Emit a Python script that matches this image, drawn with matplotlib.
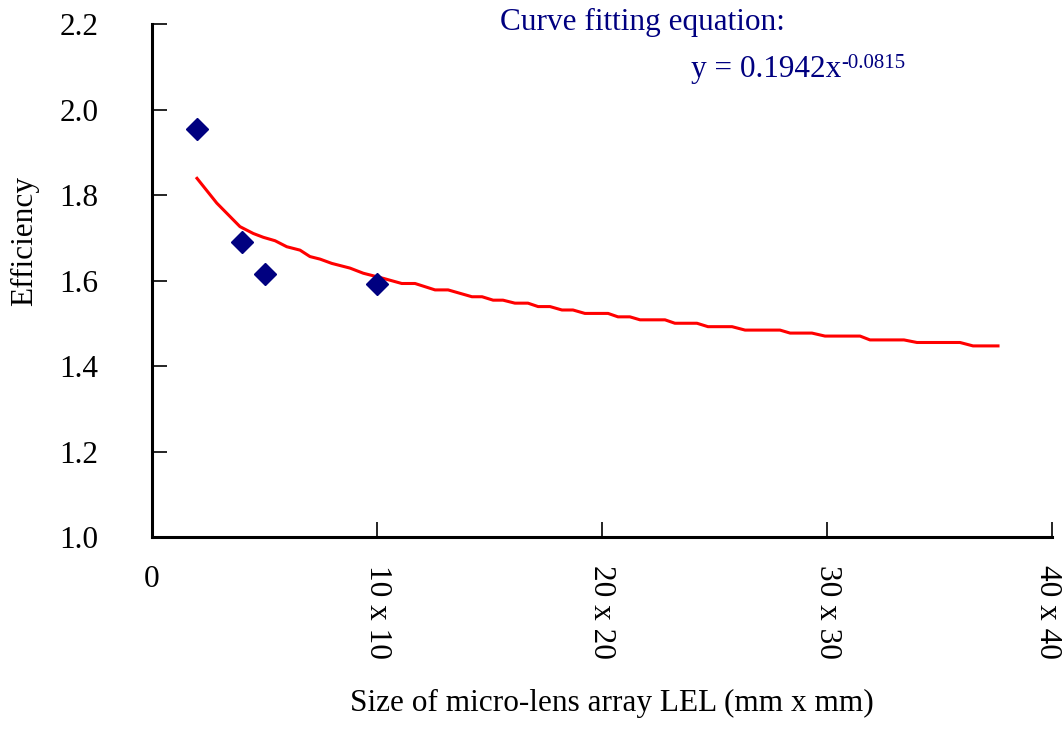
import matplotlib
matplotlib.use("Agg")
import matplotlib.pyplot as plt
from matplotlib.transforms import ScaledTranslation

# measured efficiency vs. array size (side length, mm)
size_x = [2, 4, 5, 10]
efficiency = [1.954, 1.690, 1.615, 1.592]

# fitted power curve (it is drawn slightly stepped)
fit_x = [2.0, 2.88, 3.91, 4.50, 4.95, 5.47, 5.99, 6.58, 7.02, 7.47,
         7.99, 8.80, 9.39, 10.28, 11.10, 11.69, 12.58, 13.16, 14.22, 14.67,
         15.16, 15.60, 16.13, 16.71, 17.16, 17.69, 18.22, 18.71, 19.24, 20.27,
         20.71, 21.24, 21.69, 22.80, 23.24, 24.22, 24.71, 25.78, 26.36, 27.91,
         28.36, 29.33, 29.91, 31.47, 31.91, 33.42, 34.00, 35.91, 36.49, 37.60]
fit_y = [1.839, 1.781, 1.726, 1.710, 1.701, 1.693, 1.679, 1.671, 1.656, 1.650,
         1.640, 1.629, 1.617, 1.605, 1.593, 1.593, 1.578, 1.578, 1.562, 1.562,
         1.554, 1.554, 1.547, 1.547, 1.539, 1.539, 1.531, 1.531, 1.523, 1.523,
         1.515, 1.515, 1.508, 1.508, 1.500, 1.500, 1.492, 1.492, 1.484, 1.484,
         1.477, 1.477, 1.470, 1.470, 1.461, 1.461, 1.455, 1.455, 1.447, 1.447]

x_ticks = [0, 10, 20, 30, 40]
x_tick_labels = ["0", "10 x 10", "20 x 20", "30 x 30", "40 x 40"]
y_ticks = [1.0, 1.2, 1.4, 1.6, 1.8, 2.0, 2.2]

NAVY = "#000080"
FS = 22.5

plt.rcParams["font.family"] = ["Liberation Serif", "DejaVu Serif"]

W, H = 1062, 749
fig = plt.figure(figsize=(W / 100, H / 100), dpi=100)
ax = fig.add_axes([152 / W, 1 - 537 / H, 900 / W, 513 / H])

ax.plot(fit_x, fit_y, color="red", lw=2.2, zorder=2)
ax.plot(size_x, efficiency, linestyle="none", marker="D", markersize=11.5,
        color=NAVY, zorder=3)

ax.set_xlim(0, 40)
ax.set_ylim(1.0, 2.2)

ax.spines["top"].set_visible(False)
ax.spines["right"].set_visible(False)
for s in ("left", "bottom"):
    ax.spines[s].set_linewidth(2.2)
    ax.spines[s].set_capstyle("projecting")

ax.set_yticks(y_ticks)
ax.set_yticklabels([f"{v:.1f}" for v in y_ticks])
ax.set_xticks(x_ticks)
ax.set_xticklabels(x_tick_labels)
ax.tick_params(axis="y", direction="in", length=11, width=1.2,
               labelsize=FS, pad=38.5)
ax.tick_params(axis="x", direction="in", length=11, width=1.2,
               labelsize=FS, pad=20)
xlabs = ax.get_xticklabels()
for i, lab in enumerate(xlabs):
    lab.set_rotation(0 if i == 0 else 270)
    lab.set_va("top")
    lab.set_ha("center")
# last label sits against the figure edge, nudge it left so it stays inside
xlabs[-1].set_transform(xlabs[-1].get_transform()
                        + ScaledTranslation(-0.05, 0, fig.dpi_scale_trans))

fig.text(25 / W, 1 - 241 / H, "Efficiency", rotation=90, fontsize=FS,
         ha="center", va="center")
fig.text(612 / W, 1 - 703 / H, "Size of micro-lens array LEL (mm x mm)",
         fontsize=FS, ha="center", va="center")

fig.text(500 / W, 1 - 22 / H, "Curve fitting equation:", fontsize=FS,
         color=NAVY, ha="left", va="center")
eq = fig.text(691 / W, 1 - 70 / H, "y = 0.1942x", fontsize=FS,
              color=NAVY, ha="left", va="center")
fig.canvas.draw()
bb = eq.get_window_extent()
fig.text(bb.x1 / W + 0.5 / W, (bb.y1 + 1) / H, "-0.0815", fontsize=15,
         color=NAVY, ha="left", va="top")

fig.savefig("out.png", dpi=100)
